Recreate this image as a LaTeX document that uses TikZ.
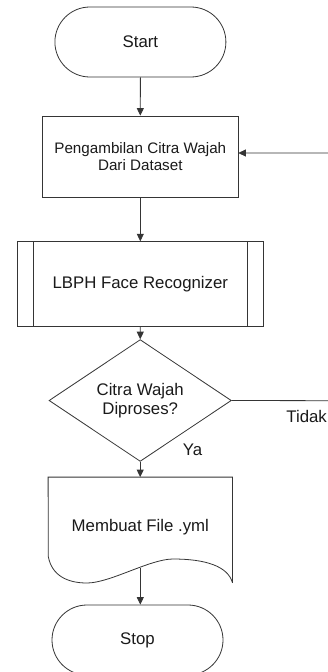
\documentclass[tikz,border=0pt]{standalone}
\usepackage{fontspec}
\setmainfont{Liberation Sans}
\usetikzlibrary{shapes.geometric,arrows.meta}
\definecolor{linec}{HTML}{353535}
\definecolor{textc}{HTML}{1A1A1A}
\begin{document}
\begin{tikzpicture}[x=1pt,y=-1pt,
  every node/.style={text=textc},
  bigtxt/.style={font=\fontsize{16.8}{19}\selectfont},
  smalltxt/.style={font=\fontsize{15.2}{17}\selectfont},
  ln/.style={draw=linec,line width=0.8pt},
  arr/.style={ln,-{Triangle[length=7.5pt,width=7pt]}},
  terminal/.style={ln,rectangle,rounded corners=35pt,minimum width=171pt,minimum height=70pt,inner sep=0pt,bigtxt},
  procbox/.style={ln,rectangle,minimum width=195.3pt,minimum height=81pt,inner sep=0pt,align=center,smalltxt},
  subproc/.style={ln,rectangle,minimum width=246pt,minimum height=85pt,inner sep=0pt,bigtxt},
  decision/.style={ln,diamond,minimum width=182.3pt,minimum height=93.7pt,inner sep=0pt,align=center,bigtxt},
]
\useasboundingbox (0,0) rectangle (328,672);
\fill[white] (0,0) rectangle (328,672);

\node[terminal] (start) at (140.4,42) {Start};
\node[procbox] (ambil) at (140.3,156.5) {Pengambilan Citra Wajah\\Dari Dataset};
\node[subproc] (lbph) at (140.3,284.2) {LBPH Face Recognizer};
\draw[ln] ([xshift=16.7pt]lbph.north west) -- ([xshift=16.7pt]lbph.south west);
\draw[ln] ([xshift=-16.7pt]lbph.north east) -- ([xshift=-16.7pt]lbph.south east);
\node[decision] (dia) at (140.2,400.5) {Citra Wajah\\Diproses?};

% document shape
\node[minimum width=184pt,minimum height=105.4pt,inner sep=0pt,bigtxt] (doc) at (140.3,530) {\raisebox{9pt}{Membuat File .yml}};
\coordinate (docb) at (140.3,568.3);
\draw[ln] (doc.south east) -- (doc.north east) -- (doc.north west) -- (48.3,556.7)
  .. controls (52,576) and (68,583) .. (87,583)
  .. controls (110,583) and (150,559) .. (173,559)
  .. controls (205,559) and (228,566) .. (doc.south east);

\node[terminal] (stop) at (137.5,640) {Stop};

% connectors
\draw[arr] (start.south) -- (ambil.north);
\draw[arr] (ambil.south) -- (lbph.north);
\draw[arr] (lbph.south) -- (dia.north);
\draw[arr] (dia.south) -- (dia.south |- doc.north);
\draw[arr] (docb) -- (docb |- stop.north);

\coordinate (loopr) at (334,400.7);
\coordinate (loopt) at (334,153);
\draw[arr] (dia.east) -- (loopr) -- (loopt) -- (ambil.east |- loopt);

\node[bigtxt,anchor=west,inner sep=0pt] (tidak) at (286.2,416.7) {Tidak};
\node[bigtxt,inner sep=0pt] (ya) at (192.5,450) {Ya};
\end{tikzpicture}
\end{document}
